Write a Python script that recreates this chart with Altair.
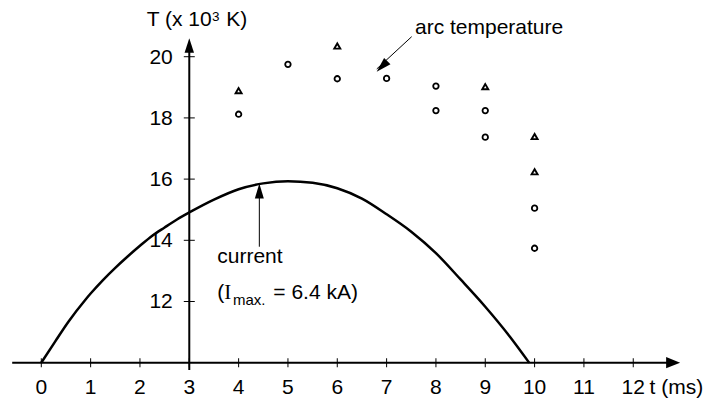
import altair as alt
import pandas as pd

# ---- data ----
# current waveform (t in ms, plotted on the T scale)
curve_t = [0, 0.28, 0.55, 0.89, 1.0, 1.25, 1.5, 1.75, 2.0, 2.25, 2.5, 2.75, 3.0,
           3.5, 4.0, 4.5, 5.0, 5.5, 6.0, 6.5, 7.0, 7.5, 8.0, 8.5, 9.0, 9.5, 9.89]
curve_T = [10.0, 10.69, 11.34, 12.05, 12.26, 12.70, 13.10, 13.47, 13.82, 14.15, 14.42, 14.68, 14.91,
           15.33, 15.67, 15.86, 15.93, 15.88, 15.70, 15.36, 14.85, 14.28, 13.58, 12.72, 11.83, 10.85, 10.0]

# arc temperature measurements (x 10^3 K)
circle_t = [4, 5, 6, 7, 8, 8, 9, 9, 10, 10]
circle_T = [18.12, 19.75, 19.28, 19.29, 19.04, 18.24, 18.24, 17.37, 15.05, 13.74]
triangle_t = [4, 6, 9, 10, 10]
triangle_T = [18.89, 20.35, 19.02, 17.39, 16.24]

# axis ticks
x_tick_values = list(range(0, 13))
y_tick_values = [12, 14, 16, 18, 20]
x_axis_T = 10
y_axis_t = 3

# ---- layout ----
X_DOMAIN = [-0.675, 13.414]
Y_DOMAIN = [9.042, 21.592]
FONT = "Liberation Sans"
FS = 21
SUB = 15

xs = alt.Scale(domain=X_DOMAIN, nice=False, zero=False)
ys = alt.Scale(domain=Y_DOMAIN, nice=False, zero=False)


def X(f):
    return alt.X(f, type="quantitative", scale=xs, axis=None)


def Y(f):
    return alt.Y(f, type="quantitative", scale=ys, axis=None)


# axis lines
axis_df = pd.DataFrame({"t": [-0.59, y_axis_t], "t2": [12.75, y_axis_t],
                        "T": [x_axis_T, 9.76], "T2": [x_axis_T, 20.4]})
axis_lines = alt.Chart(axis_df).mark_rule(color="black", strokeWidth=2).encode(
    x=X("t"), x2="t2", y=Y("T"), y2="T2")

# arrow heads of axes
right_head = alt.Chart(pd.DataFrame({"t": [12.95], "T": [x_axis_T]})).mark_point(
    shape="M0,0L-1,-0.4L-1,0.4Z", size=784, filled=True, color="black", opacity=1, strokeWidth=0
).encode(x=X("t"), y=Y("T"))
up_head = alt.Chart(pd.DataFrame({"t": [y_axis_t], "T": [20.6]})).mark_point(
    shape="M0,0L-0.33,1L0.33,1Z", size=818, filled=True, color="black", opacity=1, strokeWidth=0
).encode(x=X("t"), y=Y("T"))

# ticks + labels
xt_df = pd.DataFrame({"t": x_tick_values, "T": [x_axis_T] * len(x_tick_values),
                      "label": [str(v) for v in x_tick_values]})
yt_df = pd.DataFrame({"t": [y_axis_t] * len(y_tick_values), "T": y_tick_values,
                      "label": [str(v) for v in y_tick_values]})
x_ticks = alt.Chart(xt_df).mark_tick(orient="vertical", size=9, thickness=1, color="black",
                                     opacity=1).encode(x=X("t"), y=Y("T"))
y_ticks = alt.Chart(yt_df).mark_tick(orient="horizontal", size=11, thickness=1, color="black",
                                     opacity=1).encode(x=X("t"), y=Y("T"))
x_labels = alt.Chart(xt_df).mark_text(font=FONT, fontSize=FS, align="center", baseline="alphabetic",
                                      dy=31, color="black").encode(x=X("t"), y=Y("T"), text="label:N")
y_labels = alt.Chart(yt_df).mark_text(font=FONT, fontSize=FS, align="right", baseline="alphabetic",
                                      dx=-16.5, dy=7, color="black").encode(x=X("t"), y=Y("T"), text="label:N")
t_title = alt.Chart(pd.DataFrame({"t": [12.33], "T": [x_axis_T], "label": ["t (ms)"]})).mark_text(
    font=FONT, fontSize=FS, align="left", baseline="alphabetic", dy=31, color="black"
).encode(x=X("t"), y=Y("T"), text="label:N")

# current curve
curve = alt.Chart(pd.DataFrame({"t": curve_t, "T": curve_T})).mark_line(
    color="black", strokeWidth=2.5, interpolate="monotone").encode(x=X("t"), y=Y("T"))

# measurement markers
circles = alt.Chart(pd.DataFrame({"t": circle_t, "T": circle_T})).mark_point(
    shape="circle", size=30, filled=False, color="black", strokeWidth=1.8, opacity=1
).encode(x=X("t"), y=Y("T"))
triangles = alt.Chart(pd.DataFrame({"t": triangle_t, "T": triangle_T})).mark_point(
    shape="triangle-up", size=36, filled=False, color="black", strokeWidth=1.9, opacity=1
).encode(x=X("t"), y=Y("T"))

# annotation arrows
ann_df = pd.DataFrame({"t": [4.42, 7.508], "t2": [4.42, 6.80], "T": [13.79, 20.654], "T2": [15.6, 19.6]})
ann_lines = alt.Chart(ann_df).mark_rule(color="black", strokeWidth=1).encode(
    x=X("t"), x2="t2", y=Y("T"), y2="T2")
ann_heads = alt.Chart(pd.DataFrame({"t": [4.42, 6.799], "T": [15.86, 19.51], "ang": [0, 225]})).mark_point(
    shape="M0,0L-0.3,1L0.3,1Z", size=900, filled=True, color="black", opacity=1, strokeWidth=0
).encode(x=X("t"), y=Y("T"), angle=alt.Angle("ang:Q", scale=None))

# texts
main_text = alt.Chart(pd.DataFrame({
    "t": [2.137, 3.748, 7.575, 3.567, 3.567, 4.703],
    "T": [21.01, 21.01, 20.74, 13.25, 12.07, 12.07],
    "label": ["T (x 10", "K)", "arc temperature", "current", "(", "= 6.4 kA)"],
})).mark_text(font=FONT, fontSize=FS, align="left", baseline="alphabetic", color="black").encode(
    x=X("t"), y=Y("T"), text="label:N")
superscript = alt.Chart(pd.DataFrame({"t": [3.462], "T": [21.18], "label": ["3"]})).mark_text(
    font=FONT, fontSize=13.5, align="left", baseline="alphabetic", color="black"
).encode(x=X("t"), y=Y("T"), text="label:N")
subscript = alt.Chart(pd.DataFrame({"t": [3.886], "T": [11.88], "label": ["max."]})).mark_text(
    font=FONT, fontSize=SUB, align="left", baseline="alphabetic", color="black"
).encode(x=X("t"), y=Y("T"), text="label:N")
serif_I = alt.Chart(pd.DataFrame({"t": [3.71], "T": [12.07], "label": ["I"]})).mark_text(
    font="Liberation Serif", fontSize=FS, align="left", baseline="alphabetic", color="black"
).encode(x=X("t"), y=Y("T"), text="label:N")

chart = alt.layer(
    axis_lines, right_head, up_head, x_ticks, y_ticks, x_labels, y_labels, t_title,
    curve, circles, triangles, ann_lines, ann_heads, main_text, superscript, subscript, serif_I,
).properties(
    width=695, height=384,
    autosize=alt.AutoSizeParams(type="none"),
    padding={"left": 0, "top": 0, "right": 0, "bottom": 8},
    background="white",
).configure_view(strokeWidth=0)

chart.save("out.html", embed_options={"renderer": "svg", "actions": False})
